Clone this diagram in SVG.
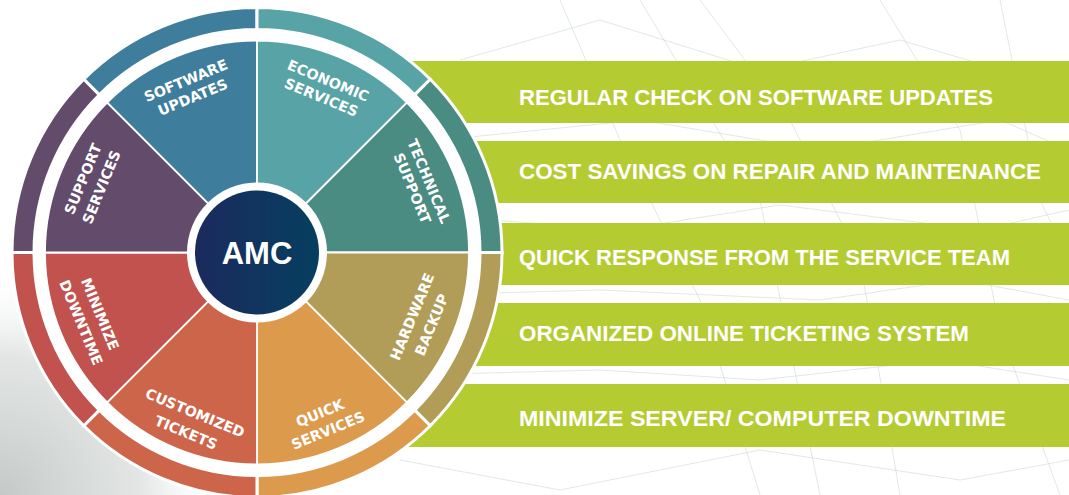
<svg xmlns="http://www.w3.org/2000/svg" width="1069" height="495" viewBox="0 0 1069 495">
<defs>
<style>
.bar{fill:#b5cb32}
.bt{font-family:"Liberation Sans","Arial",sans-serif;font-weight:bold;font-size:22px;fill:#fff}
.wl{font-family:"DejaVu Sans","Verdana",sans-serif;font-weight:bold;font-size:14.3px;fill:#fff;text-anchor:middle}
.wd{stroke:#fff;stroke-width:1.8}
.rg{stroke:#fff;stroke-width:3}
.bg{stroke:#c9d6d3;stroke-width:1;fill:none;opacity:.55}
</style>
<linearGradient id="amcg" x1="0" y1="0" x2="1" y2="0">
<stop offset="0" stop-color="#1b2a5d"/>
<stop offset="1" stop-color="#063f60"/>
</linearGradient>
<radialGradient id="bl" cx="0" cy="495" r="230" gradientUnits="userSpaceOnUse">
<stop offset="0" stop-color="#c4c9c8" stop-opacity="1"/>
<stop offset="0.6" stop-color="#d6dad9" stop-opacity="0.7"/>
<stop offset="1" stop-color="#ffffff" stop-opacity="0"/>
</radialGradient>
</defs>
<rect width="1069" height="495" fill="#fff"/>
<g id="background">
<rect x="0" y="260" width="240" height="235" fill="url(#bl)"/>
<path class="bg" d="M700 0 L790 120 L860 260 L900 495"/>
<path class="bg" d="M560 0 L620 140 L700 300 L760 495"/>
<path class="bg" d="M880 0 L960 130 L1000 330 L1060 495"/>
<path class="bg" d="M460 60 L600 20 L760 70 L900 40 L1069 90"/>
<path class="bg" d="M440 140 L640 120 L820 150 L1000 120 L1069 150"/>
<path class="bg" d="M430 215 L620 230 L780 205 L980 230 L1069 210"/>
<path class="bg" d="M420 295 L600 290 L820 300 L960 280 L1069 300"/>
<path class="bg" d="M410 375 L600 370 L760 380 L940 360 L1069 380"/>
<path class="bg" d="M400 460 L560 490 L760 450 L960 480 L1069 460"/>
<path class="bg" d="M1000 0 L1040 200 L1069 260"/>
<path class="bg" d="M640 0 L760 200 L820 495"/>
</g>
<g id="bars">
<rect class="bar" x="360" y="61" width="709" height="62"/>
<rect class="bar" x="360" y="141" width="709" height="62"/>
<rect class="bar" x="360" y="223" width="709" height="62"/>
<rect class="bar" x="360" y="303" width="709" height="63"/>
<rect class="bar" x="360" y="384" width="709" height="63"/>
<text class="bt" x="519" y="105" textLength="474" lengthAdjust="spacingAndGlyphs">REGULAR CHECK ON SOFTWARE UPDATES</text>
<text class="bt" x="519" y="179" textLength="522" lengthAdjust="spacingAndGlyphs">COST SAVINGS ON REPAIR AND MAINTENANCE</text>
<text class="bt" x="519" y="265" textLength="491" lengthAdjust="spacingAndGlyphs">QUICK RESPONSE FROM THE SERVICE TEAM</text>
<text class="bt" x="519" y="341" textLength="450" lengthAdjust="spacingAndGlyphs">ORGANIZED ONLINE TICKETING SYSTEM</text>
<text class="bt" x="519" y="426" textLength="487" lengthAdjust="spacingAndGlyphs">MINIMIZE SERVER/ COMPUTER DOWNTIME</text>
</g>
<circle cx="257" cy="252.5" r="245" fill="#fff"/>
<g id="ring">
<path class="rg" fill="#3e7e9c" d="M83.76 79.26 A245 245 0 0 1 257 7.5 L257 29.5 A223 223 0 0 0 99.32 94.82 Z"/>
<path class="rg" fill="#58a3a5" d="M257 7.5 A245 245 0 0 1 430.24 79.26 L414.68 94.82 A223 223 0 0 0 257 29.5 Z"/>
<path class="rg" fill="#4a8b82" d="M430.24 79.26 A245 245 0 0 1 502 252.5 L480 252.5 A223 223 0 0 0 414.68 94.82 Z"/>
<path class="rg" fill="#b19d58" d="M502 252.5 A245 245 0 0 1 430.24 425.74 L414.68 410.18 A223 223 0 0 0 480 252.5 Z"/>
<path class="rg" fill="#dc9a4c" d="M430.24 425.74 A245 245 0 0 1 257 497.5 L257 475.5 A223 223 0 0 0 414.68 410.18 Z"/>
<path class="rg" fill="#cd654a" d="M257 497.5 A245 245 0 0 1 83.76 425.74 L99.32 410.18 A223 223 0 0 0 257 475.5 Z"/>
<path class="rg" fill="#c1524d" d="M83.76 425.74 A245 245 0 0 1 12 252.5 L34 252.5 A223 223 0 0 0 99.32 410.18 Z"/>
<path class="rg" fill="#634b6b" d="M12 252.5 A245 245 0 0 1 83.76 79.26 L99.32 94.82 A223 223 0 0 0 34 252.5 Z"/>
</g>
<g id="software-updates">
<path class="wd" fill="#3e7e9c" d="M257 252.5 L107.1 102.6 A212 212 0 0 1 257 40.5 Z"/>
<g transform="translate(185.8 80.7) rotate(-22.5)"><text class="wl" x="0" y="5">SOFTWARE</text></g>
<g transform="translate(192.7 97.3) rotate(-22.5)"><text class="wl" x="0" y="5">UPDATES</text></g>
</g>
<g id="economic-services">
<path class="wd" fill="#58a3a5" d="M257 252.5 L257 40.5 A212 212 0 0 1 406.9 102.6 Z"/>
<g transform="translate(328.2 80.7) rotate(22.5)"><text class="wl" x="0" y="5">ECONOMIC</text></g>
<g transform="translate(321.3 97.3) rotate(22.5)"><text class="wl" x="0" y="5">SERVICES</text></g>
</g>
<g id="technical-support">
<path class="wd" fill="#4a8b82" d="M257 252.5 L406.9 102.6 A212 212 0 0 1 469 252.5 Z"/>
<g transform="translate(428.8 181.3) rotate(67.5)"><text class="wl" x="0" y="5">TECHNICAL</text></g>
<g transform="translate(412.2 188.2) rotate(67.5)"><text class="wl" x="0" y="5">SUPPORT</text></g>
</g>
<g id="hardware-backup">
<path class="wd" fill="#b19d58" d="M257 252.5 L469 252.5 A212 212 0 0 1 406.9 402.4 Z"/>
<g transform="translate(412.2 316.8) rotate(-67.5)"><text class="wl" x="0" y="5">HARDWARE</text></g>
<g transform="translate(431.6 324.8) rotate(-67.5)"><text class="wl" x="0" y="5">BACKUP</text></g>
</g>
<g id="quick-services">
<path class="wd" fill="#dc9a4c" d="M257 252.5 L406.9 402.4 A212 212 0 0 1 257 464.5 Z"/>
<g transform="translate(320 413) rotate(-22.5)"><text class="wl" x="0" y="5">QUICK</text></g>
<g transform="translate(328 430.5) rotate(-22.5)"><text class="wl" x="0" y="5">SERVICES</text></g>
</g>
<g id="customized-tickets">
<path class="wd" fill="#cd654a" d="M257 252.5 L257 464.5 A212 212 0 0 1 107.1 402.4 Z"/>
<g transform="translate(195 413) rotate(22.5)"><text class="wl" x="0" y="5">CUSTOMIZED</text></g>
<g transform="translate(186 432.5) rotate(22.5)"><text class="wl" x="0" y="5">TICKETS</text></g>
</g>
<g id="minimize-downtime">
<path class="wd" fill="#c1524d" d="M257 252.5 L107.1 402.4 A212 212 0 0 1 45 252.5 Z"/>
<g transform="translate(100 314) rotate(67.5)"><text class="wl" x="0" y="5">MINIMIZE</text></g>
<g transform="translate(81 322.5) rotate(67.5)"><text class="wl" x="0" y="5">DOWNTIME</text></g>
</g>
<g id="support-services">
<path class="wd" fill="#634b6b" d="M257 252.5 L45 252.5 A212 212 0 0 1 107.1 102.6 Z"/>
<g transform="translate(83 179) rotate(-67.5)"><text class="wl" x="0" y="5">SUPPORT</text></g>
<g transform="translate(101.5 187) rotate(-67.5)"><text class="wl" x="0" y="5">SERVICES</text></g>
</g>
<g id="amc">
<circle cx="257" cy="252.5" r="70" fill="#fff"/>
<circle cx="257" cy="252.5" r="62" fill="url(#amcg)"/>
<text x="257" y="264" text-anchor="middle" font-family="Liberation Sans, Arial, sans-serif" font-weight="bold" font-size="31" fill="#fff">AMC</text>
</g>
</svg>
